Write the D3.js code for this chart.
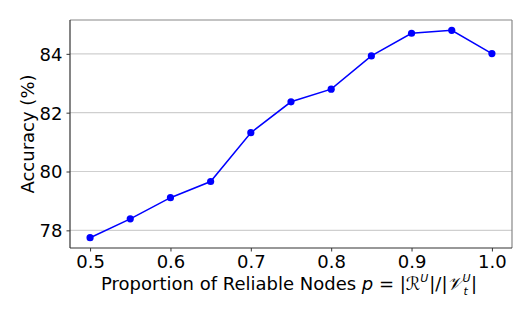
<!DOCTYPE html>
<html>
<head>
<meta charset="utf-8">
<script src="https://d3js.org/d3.v7.min.js"></script>
<style>
  body { margin: 0; background: #fff; }
  text { font-family: "DejaVu Sans", sans-serif; }
</style>
</head>
<body>
<svg id="chart" width="532" height="319"></svg>
<script>
// proportion of reliable nodes
var proportions = [0.5, 0.55, 0.6, 0.65, 0.7, 0.75, 0.8, 0.85, 0.9, 0.95, 1.0];
// accuracy (%)
var accuracy = [77.75, 78.39, 79.11, 79.66, 81.32, 82.37, 82.8, 83.93, 84.7, 84.8, 84.01];
var xTicks = [0.5, 0.6, 0.7, 0.8, 0.9, 1.0];
var yTicks = [78, 80, 82, 84];

var margin = { left: 70, right: 20, top: 20, bottom: 71 };
var width = 532, height = 319;
var svg = d3.select('#chart');

var x = d3.scaleLinear().domain([0.475, 1.025]).range([margin.left, width - margin.right]);
var y = d3.scaleLinear().domain([77.4, 85.15]).range([height - margin.bottom, margin.top]);

var data = proportions.map(function(p, i) { return { p: p, acc: accuracy[i] }; });

// grid
svg.append('g')
  .selectAll('line')
  .data(yTicks)
  .enter().append('line')
  .attr('x1', margin.left).attr('x2', width - margin.right)
  .attr('y1', function(d) { return y(d); })
  .attr('y2', function(d) { return y(d); })
  .attr('stroke', '#cfcfcf')
  .attr('stroke-width', 1.2);

// axes
var xAxis = svg.append('g')
  .attr('transform', 'translate(0,' + (height - margin.bottom) + ')')
  .call(d3.axisBottom(x).tickValues(xTicks).tickFormat(d3.format('.1f')).tickSizeOuter(0).tickSize(3.5).tickPadding(4));
var yAxis = svg.append('g')
  .attr('transform', 'translate(' + margin.left + ',0)')
  .call(d3.axisLeft(y).tickValues(yTicks).tickFormat(d3.format('d')).tickSizeOuter(0).tickSize(3.5).tickPadding(4));

[xAxis, yAxis].forEach(function(a) {
  a.select('.domain').remove();
  a.selectAll('text').attr('font-size', 18).attr('fill', '#000').style('font-family', '"DejaVu Sans", sans-serif');
  a.selectAll('line').attr('stroke', '#333');
});
yAxis.selectAll('text').attr('dy', '0.36em');

// spines
var L = margin.left, R = width - margin.right, T = margin.top, B = height - margin.bottom;
svg.append('line').attr('x1', L).attr('x2', R).attr('y1', T).attr('y2', T).attr('stroke', '#888').attr('stroke-width', 1.2);
svg.append('line').attr('x1', R).attr('x2', R).attr('y1', T).attr('y2', B).attr('stroke', '#888').attr('stroke-width', 1.2);
svg.append('line').attr('x1', L).attr('x2', R).attr('y1', B).attr('y2', B).attr('stroke', '#333').attr('stroke-width', 1.2);
svg.append('line').attr('x1', L).attr('x2', L).attr('y1', T).attr('y2', B).attr('stroke', '#333').attr('stroke-width', 1.2);

// line + markers
var line = d3.line()
  .x(function(d) { return x(d.p); })
  .y(function(d) { return y(d.acc); });

svg.append('path')
  .datum(data)
  .attr('d', line)
  .attr('fill', 'none')
  .attr('stroke', '#0000ff')
  .attr('stroke-width', 1.5);

svg.append('g')
  .selectAll('circle')
  .data(data)
  .enter().append('circle')
  .attr('cx', function(d) { return x(d.p); })
  .attr('cy', function(d) { return y(d.acc); })
  .attr('r', 3.6)
  .attr('fill', '#0000ff');

// y label
svg.append('text')
  .attr('transform', 'translate(34,' + ((T + B) / 2) + ') rotate(-90)')
  .attr('text-anchor', 'middle')
  .attr('font-size', 18)
  .text('Accuracy (%)');

// x label
var xl = svg.append('text')
  .attr('x', (L + R) / 2 - 2)
  .attr('y', 290)
  .attr('text-anchor', 'middle')
  .attr('font-size', 18);
xl.append('tspan').text('Proportion of Reliable Nodes ');
xl.append('tspan').attr('font-style', 'italic').text('p');
xl.append('tspan').text(' = |');
xl.append('tspan').attr('font-style', 'italic').text('\u211B');
xl.append('tspan').attr('font-size', 11).attr('dy', -8).attr('font-style', 'italic').text('U');
xl.append('tspan').attr('dx', 1).attr('dy', 8).text('|/|');
xl.append('tspan').attr('font-style', 'italic').text('\uD835\uDCB1');
xl.append('tspan').attr('font-size', 11).attr('dy', -8).attr('font-style', 'italic').text('U');
xl.append('tspan').attr('font-size', 11).attr('dx', -7).attr('dy', 13).attr('font-style', 'italic').text('t');
xl.append('tspan').attr('dx', 3).attr('dy', -5).text('|');
</script>
</body>
</html>
